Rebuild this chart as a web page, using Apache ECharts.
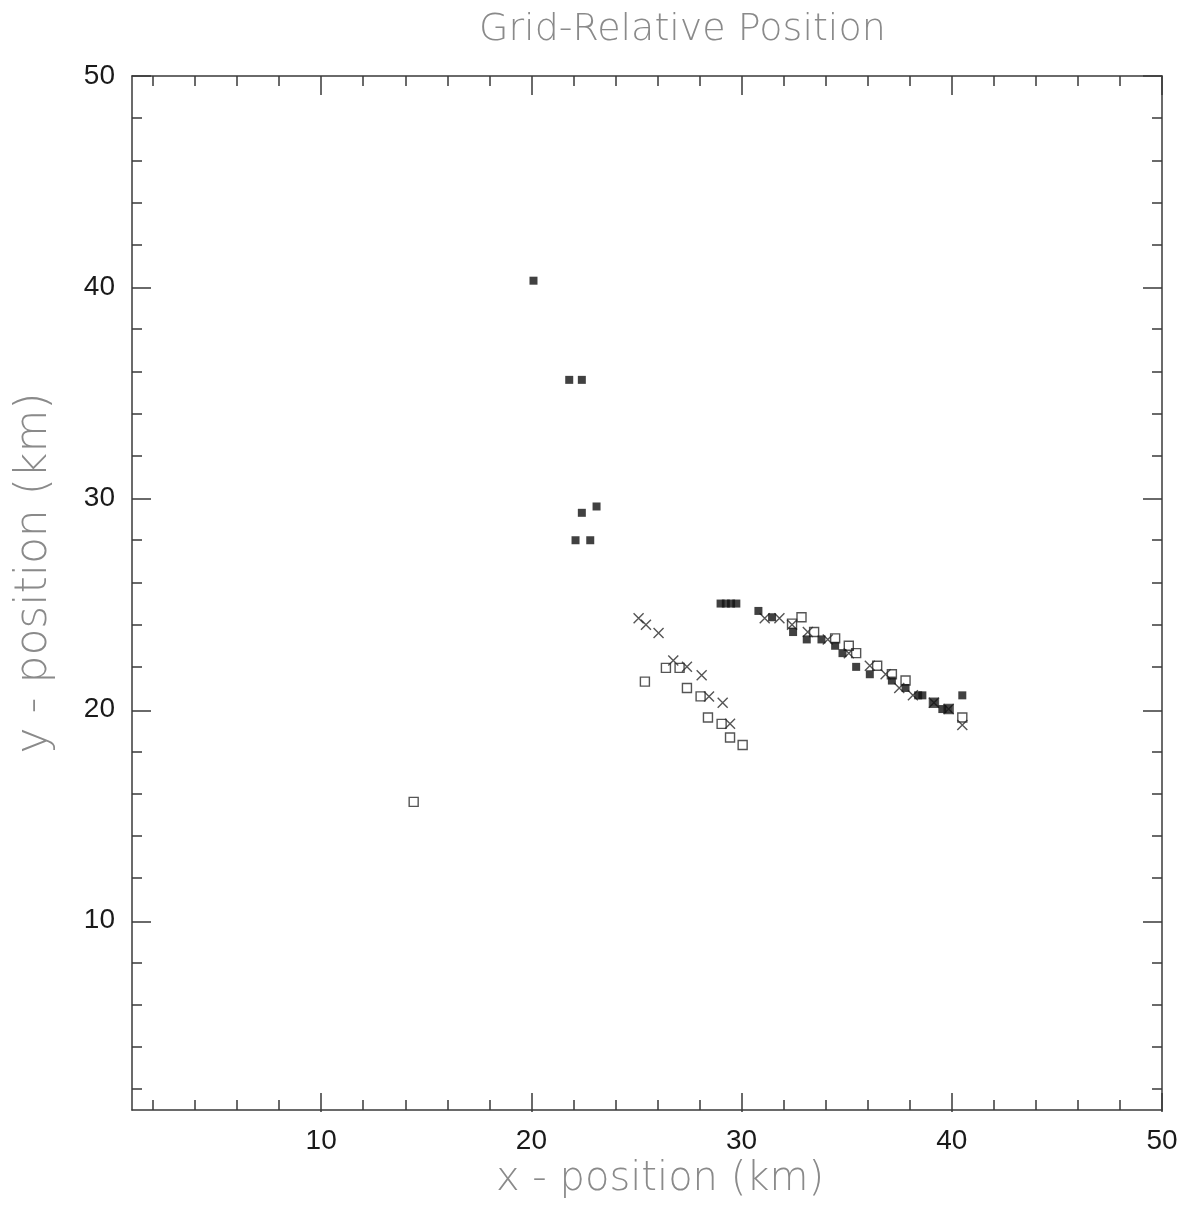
<!DOCTYPE html>
<html style="height: 100%">
<head>
    <meta charset="utf-8">
    <script src="https://cdn.jsdelivr.net/npm/echarts@6/dist/echarts.min.js"></script>
</head>
<body style="height: 100%; margin: 0; background: #fff">
<div id="main" style="width: 1194px; height: 1205px"></div>
<script type="text/javascript">
// filled squares
var filledPts = [
    [20.1, 40.3], [21.8, 35.6], [22.4, 35.6], [22.4, 29.3], [23.1, 29.6], [22.1, 28.0], [22.8, 28.0],
    [29.0, 25.0], [29.25, 25.0], [29.5, 25.0], [29.75, 25.0],
    [30.8, 24.65], [31.45, 24.35], [32.45, 23.65], [33.1, 23.3], [33.8, 23.3], [34.45, 23.0],
    [34.8, 22.65], [35.45, 22.0], [36.1, 21.65], [37.15, 21.35], [37.8, 21.0], [38.4, 20.65],
    [38.6, 20.65], [39.15, 20.3], [39.55, 20.0], [39.85, 20.0], [40.5, 20.65]
];
// open squares
var openPts = [
    [14.4, 15.6], [25.4, 21.3], [26.4, 21.95], [27.05, 21.95], [27.4, 21.0], [28.05, 20.6],
    [28.4, 19.6], [29.05, 19.3], [29.45, 18.65], [30.05, 18.3],
    [32.4, 24.05], [32.85, 24.35], [33.45, 23.65], [34.45, 23.35], [35.1, 23.0], [35.45, 22.65],
    [36.45, 22.05], [37.15, 21.65], [37.8, 21.35], [39.15, 20.3], [39.85, 20.0], [40.5, 19.6]
];
// crosses
var crossPts = [
    [25.1, 24.3], [25.45, 24.0], [26.05, 23.6], [26.75, 22.3], [27.4, 22.0], [28.1, 21.6],
    [28.45, 20.6], [29.1, 20.3], [29.45, 19.3],
    [31.1, 24.3], [31.8, 24.3], [32.4, 24.0], [33.15, 23.65], [34.1, 23.3], [35.1, 22.65],
    [36.1, 22.05], [36.85, 21.65], [37.5, 21.0], [38.15, 20.65], [39.15, 20.3], [39.85, 20.0], [40.5, 19.25]
];
var minorTicks = [2, 4, 6, 8, 12, 14, 16, 18, 22, 24, 26, 28, 32, 34, 36, 38, 42, 44, 46, 48];
var majorTicks = [10, 20, 30, 40, 50];
var tickLabels = [10, 20, 30, 40, 50];

var lineCol = '#3a3a3a';
var gridBox = {left: 132, right: 32, top: 76, bottom: 93};

function frameAxis(pos, grid, ticks, len, withLine) {
    return {
        type: 'value', position: pos, gridIndex: grid, min: 1, max: 50,
        axisLine: {show: withLine, onZero: false, lineStyle: {color: lineCol, width: 1.5}},
        axisTick: {show: true, inside: true, length: len, customValues: ticks,
                   lineStyle: {color: lineCol, width: 1.5}},
        axisLabel: {show: false},
        splitLine: {show: false}
    };
}

var xMain = frameAxis('bottom', 0, minorTicks, 10, true);
xMain.axisLabel = {show: true, customValues: tickLabels, margin: 17,
    color: '#1a1a1a', fontSize: 28, fontFamily: 'Liberation Sans'};
xMain.name = 'x - position (km)';
xMain.nameLocation = 'middle';
xMain.nameGap = 50;
xMain.nameTextStyle = {color: '#8a8a8a', fontSize: 40, fontFamily: 'DejaVu Sans', fontWeight: 'lighter',
    padding: [0, 0, 0, 26]};

var yMain = frameAxis('left', 0, minorTicks, 10, true);
yMain.axisLabel = {show: true, customValues: tickLabels, margin: 17,
    color: '#1a1a1a', fontSize: 28, fontFamily: 'Liberation Sans'};
yMain.name = 'y - position (km)';
yMain.nameLocation = 'middle';
yMain.nameGap = 75;
yMain.nameTextStyle = {color: '#8a8a8a', fontSize: 44, fontFamily: 'DejaVu Sans', fontWeight: 'lighter',
    padding: [0, 0, 0, 40]};

var crossPath = 'path://M0,0L10,10M10,0L0,10';

var option = {
    animation: false,
    backgroundColor: '#fff',
    title: {
        text: 'Grid-Relative Position',
        left: 474, top: 6,
        textStyle: {color: '#8a8a8a', fontSize: 38, fontWeight: 'lighter', fontFamily: 'DejaVu Sans'}
    },
    grid: [
        Object.assign({}, gridBox),
        Object.assign({}, gridBox)
    ],
    xAxis: [
        xMain,
        frameAxis('top', 0, minorTicks, 10, true),
        frameAxis('bottom', 1, majorTicks, 19, false),
        frameAxis('top', 1, majorTicks, 19, false)
    ],
    yAxis: [
        yMain,
        frameAxis('right', 0, minorTicks, 10, true),
        frameAxis('left', 1, majorTicks, 19, false),
        frameAxis('right', 1, majorTicks, 19, false)
    ],
    series: [
        {
            name: 'open', type: 'scatter', xAxisIndex: 0, yAxisIndex: 0,
            symbol: 'rect', symbolSize: 9, data: openPts,
            itemStyle: {color: 'rgba(255,255,255,0)', borderColor: '#2a2a2a', borderWidth: 1.4}
        },
        {
            name: 'cross', type: 'scatter', xAxisIndex: 0, yAxisIndex: 0,
            symbol: crossPath, symbolSize: 10, data: crossPts,
            itemStyle: {color: 'rgba(255,255,255,0)', borderColor: '#2a2a2a', borderWidth: 1.4}
        },
        {
            name: 'filled', type: 'scatter', xAxisIndex: 0, yAxisIndex: 0,
            symbol: 'rect', symbolSize: 8, data: filledPts,
            itemStyle: {color: '#111'}
        }
    ]
};

var myChart = echarts.init(document.getElementById('main'));
myChart.setOption(option);
</script>
</body>
</html>
